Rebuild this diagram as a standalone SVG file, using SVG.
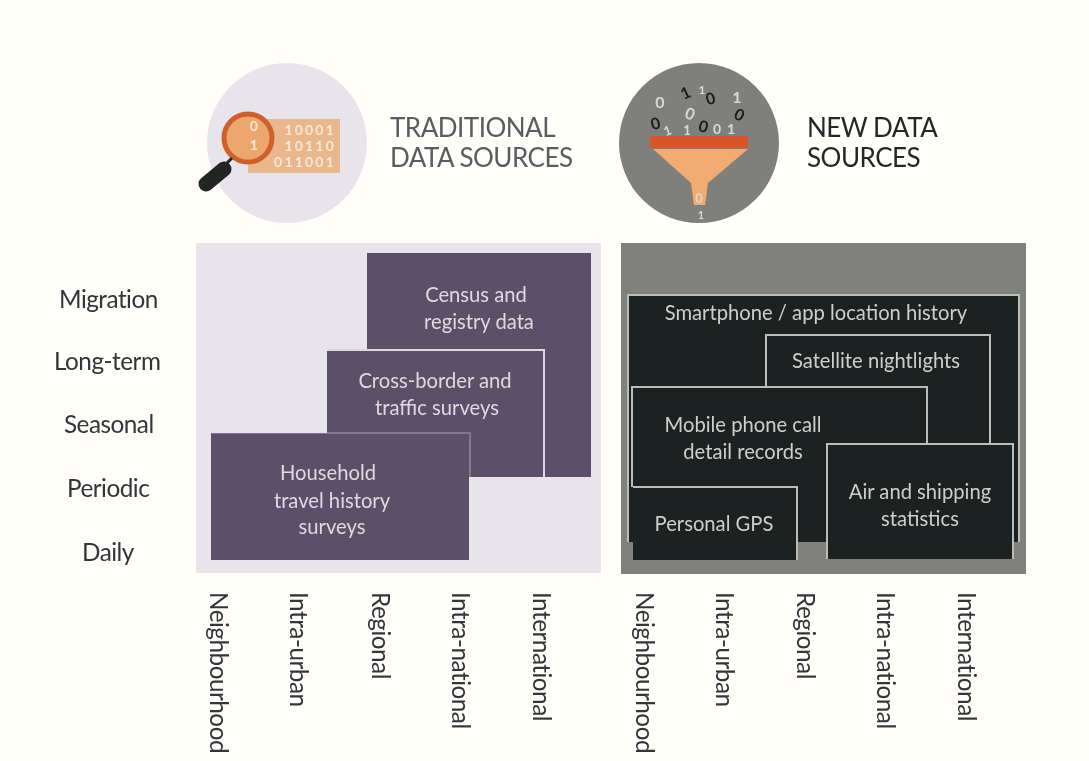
<svg xmlns="http://www.w3.org/2000/svg" width="1089" height="761" viewBox="0 0 1089 761">
<style>
text{font-family:"Lato","Liberation Sans",sans-serif}
.ax{font-size:24.3px;fill:#33343a;letter-spacing:-.5px}
.lt{font-size:20.2px;fill:#dedbe0;text-anchor:middle}
.lk{font-size:20.2px;fill:#cfcfca;text-anchor:middle}
.p{fill:#5c5069}
.k{fill:#1e2224}
.e{fill:none;stroke:#bdbdb8;stroke-width:2}
.ep{fill:none;stroke:#dcd8e2;stroke-width:2}
.b{font-size:14px;font-weight:700;fill:#f8e8d6;letter-spacing:2.2px;text-anchor:end}
.hd{font-size:26px;letter-spacing:-.5px}
.d{font-size:16px;font-weight:700;text-anchor:middle}
.w{fill:#d8d8d4}
.n{fill:#1a1a1a}
</style>
<defs><filter id="soft" x="0" y="0" width="100%" height="100%"><feGaussianBlur stdDeviation="0.7"/></filter></defs>
<rect width="1089" height="761" fill="#fffef9"/>
<g filter="url(#soft)">
<g id="icon-traditional">
<circle cx="287" cy="143" r="80" fill="#e7e4ec"/>
<rect x="248" y="119" width="92" height="54" fill="#eab68c"/>
<text class="b" x="336" y="135">10001</text>
<text class="b" x="336" y="151">10110</text>
<text class="b" x="336" y="167">011001</text>
<circle cx="248" cy="138" r="24" fill="#eda66e" stroke="#d0602c" stroke-width="5"/>
<text class="b" x="260" y="131" letter-spacing="0">0</text>
<text class="b" x="260" y="150" letter-spacing="0">1</text>
<line x1="232" y1="158" x2="222" y2="168" stroke="#222524" stroke-width="3"/>
<line x1="224" y1="169" x2="206" y2="184" stroke="#222524" stroke-width="15" stroke-linecap="round"/>
</g>
<text class="hd" fill="#5a5b63"><tspan x="390" y="137">TRADITIONAL</tspan><tspan x="390" y="167">DATA SOURCES</tspan></text>
<g id="icon-new">
<circle cx="699" cy="143" r="80" fill="#7f807b"/>
<rect x="650" y="136" width="98" height="12" fill="#d9552a"/>
<path d="M653 149H748L708 183L705 205H694L691 183Z" fill="#f2ab70"/>
<g class="d">
<text class="w" x="660" y="108">0</text>
<text class="n" transform="translate(688 98) rotate(-25)">1</text>
<text class="w" font-size="12" x="702" y="94">1</text>
<text class="n" transform="translate(712 104) rotate(-15)">0</text>
<text class="w" x="737" y="103">1</text>
<text class="n" transform="translate(737 120) rotate(25)">0</text>
<text class="w" transform="translate(688 119) rotate(20)">0</text>
<text class="n" transform="translate(657 129) rotate(-15)">0</text>
<text class="w" font-size="13" transform="translate(669 135) rotate(-20)">1</text>
<text class="w" font-size="13" x="687" y="135">1</text>
<text class="n" transform="translate(702 132) rotate(15)">0</text>
<text class="w" font-size="14" x="717" y="134">0</text>
<text class="w" font-size="14" x="731" y="134">1</text>
<text class="w" font-size="13" x="699" y="203">0</text>
<text class="w" font-size="11" x="701" y="219">1</text>
</g>
</g>
<text class="hd" fill="#26272a"><tspan x="807" y="137">NEW DATA</tspan><tspan x="807" y="167">SOURCES</tspan></text>
<rect x="196" y="243" width="405" height="330" fill="#e8e4eb"/>
<rect x="621" y="243" width="405" height="331" fill="#80817c"/>
<g id="connectors"/>
<g id="n-census"><rect class="p" x="367" y="253" width="224" height="224"/><text class="lt"><tspan x="476" y="302">Census and</tspan><tspan x="479" y="329">registry data</tspan></text></g>
<g id="n-crossborder"><rect class="p" x="327" y="350" width="217" height="127"/><path class="ep" d="M327 350H544V477"/><text class="lt"><tspan x="435" y="388">Cross-border and</tspan><tspan x="437" y="415">traffic surveys</tspan></text></g>
<g id="n-household"><rect class="p" x="211" y="433" width="258" height="127"/><path class="ep" d="M211 433H470V477" opacity=".3"/><text class="lt"><tspan x="328" y="480">Household</tspan><tspan x="332" y="508">travel history</tspan><tspan x="332" y="534">surveys</tspan></text></g>
<g id="n-smartphone"><rect class="k" x="628" y="295" width="391" height="247"/><path class="e" d="M628 542V295H1019V542"/><text class="lk" x="816" y="320">Smartphone / app location history</text></g>
<g id="n-satellite"><rect class="k" x="766" y="335" width="224" height="150"/><path class="e" d="M766 387V335H990V444"/><text class="lk" x="876" y="368">Satellite nightlights</text></g>
<g id="n-mobile"><rect class="k" x="632" y="387" width="295" height="155"/><path class="e" d="M632 487V387H927V444"/><text class="lk"><tspan x="743" y="432">Mobile phone call</tspan><tspan x="743" y="459">detail records</tspan></text></g>
<g id="n-gps"><rect class="k" x="633" y="487" width="164" height="73"/><path class="e" d="M633 487H797V560"/><text class="lk" x="714" y="531">Personal GPS</text></g>
<g id="n-air"><rect class="k" x="827" y="444" width="186" height="115"/><path class="e" d="M827 559V444H1013V559"/><text class="lk"><tspan x="920" y="499">Air and shipping</tspan><tspan x="920" y="526">statistics</tspan></text></g>
<g class="ax">
<text x="59" y="308">Migration</text>
<text x="54" y="370">Long-term</text>
<text x="64" y="433">Seasonal</text>
<text x="67" y="497">Periodic</text>
<text x="82" y="561">Daily</text>
<text transform="translate(210 592) rotate(90)">Neighbourhood</text>
<text transform="translate(290 592) rotate(90)">Intra-urban</text>
<text transform="translate(372 592) rotate(90)">Regional</text>
<text transform="translate(452 592) rotate(90)">Intra-national</text>
<text transform="translate(533 592) rotate(90)">International</text>
<text transform="translate(636 592) rotate(90)">Neighbourhood</text>
<text transform="translate(716 592) rotate(90)">Intra-urban</text>
<text transform="translate(797 592) rotate(90)">Regional</text>
<text transform="translate(877 592) rotate(90)">Intra-national</text>
<text transform="translate(958 592) rotate(90)">International</text>
</g>
</g>
</svg>
